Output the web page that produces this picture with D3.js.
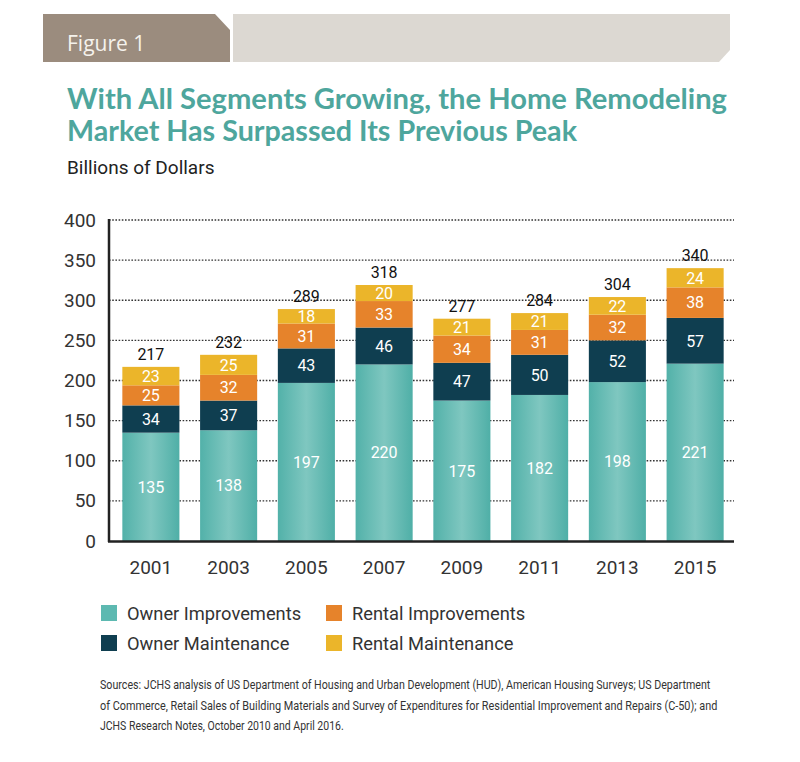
<!DOCTYPE html>
<html>
<head>
<meta charset="utf-8">
<script src="https://cdn.jsdelivr.net/npm/d3@7"></script>
<style>
  body { margin: 0; background: #fff; }
  svg { display: block; }
</style>
</head>
<body>
<div id="chart"></div>
<script>
// chart values
const years = ['2001', '2003', '2005', '2007', '2009', '2011', '2013', '2015'];
const ownerImprovements = [135, 138, 197, 220, 175, 182, 198, 221];
const ownerMaintenance = [34, 37, 43, 46, 47, 50, 52, 57];
const rentalImprovements = [25, 32, 31, 33, 34, 31, 32, 38];
const rentalMaintenance = [23, 25, 18, 20, 21, 21, 22, 24];
const totals = [217, 232, 289, 318, 277, 284, 304, 340];
const yTicks = [0, 50, 100, 150, 200, 250, 300, 350, 400];
const seriesNames = ['Owner Improvements', 'Owner Maintenance', 'Rental Improvements', 'Rental Maintenance'];
const seriesColors = ['url(#tealGrad)', '#0f3e50', '#e6832b', '#ebb52a'];
const legendColors = ['#5db9b1', '#0f3e50', '#e6832b', '#ebb52a'];

const sources = [
  'Sources: JCHS analysis of US Department of Housing and Urban Development (HUD), American Housing Surveys; US Department',
  'of Commerce, Retail Sales of Building Materials and Survey of Expenditures for Residential Improvement and Repairs (C-50); and',
  'JCHS Research Notes, October 2010 and April 2016.'
];

// build rows for stacking
const keys = ['oi', 'om', 'ri', 'rm'];
const rows = years.map((y, i) => ({
  year: y, oi: ownerImprovements[i], om: ownerMaintenance[i],
  ri: rentalImprovements[i], rm: rentalMaintenance[i], total: totals[i]
}));
const stacked = d3.stack().keys(keys)(rows);

const svg = d3.select('#chart')
  .append('svg')
    .attr('width', 800)
    .attr('height', 762);

const defs = svg.append('defs');
const grad = defs.append('linearGradient')
    .attr('id', 'tealGrad')
    .attr('x1', '0%').attr('x2', '100%').attr('y1', '0%').attr('y2', '0%');
grad.append('stop').attr('offset', '0%').attr('stop-color', '#52b1a9');
grad.append('stop').attr('offset', '50%').attr('stop-color', '#7fc7c0');
grad.append('stop').attr('offset', '100%').attr('stop-color', '#4fafa7');

// header bands
svg.append('path')
    .attr('d', 'M43,14 L215,14 L230,30 L230,62 L43,62 Z')
    .attr('fill', '#9b8c7e');
svg.append('path')
    .attr('d', 'M233,14 L730,14 L730,50 L719,62 L233,62 Z')
    .attr('fill', '#dcd8d2');
svg.append('text')
    .attr('x', 67).attr('y', 51)
    .attr('font-family', 'Open Sans, sans-serif')
    .attr('font-size', 21)
    .attr('fill', '#f5f2ec')
    .text('Figure 1');

// title
const titleLines = ['With All Segments Growing, the Home Remodeling', 'Market Has Surpassed Its Previous Peak'];
const titleWidths = [660, 510];
svg.selectAll('.title')
    .data(titleLines)
    .enter()
    .append('text')
      .attr('class', 'title')
      .attr('x', 67)
      .attr('y', (d, i) => 109 + i * 32)
      .attr('font-family', 'Lato, sans-serif')
      .attr('font-weight', 700)
      .attr('font-size', 29)
      .attr('fill', '#4ea69d')
      .attr('textLength', (d, i) => titleWidths[i])
      .attr('lengthAdjust', 'spacingAndGlyphs')
      .text(d => d);

svg.append('text')
    .attr('x', 67).attr('y', 174)
    .attr('font-family', 'Roboto, sans-serif')
    .attr('font-size', 19)
    .attr('fill', '#222')
    .text('Billions of Dollars');

// scales
const x = d3.scaleBand()
    .domain(years)
    .range([112, 734])
    .paddingInner(0.266)
    .paddingOuter(0.133);
const y = d3.scaleLinear()
    .domain([0, 400])
    .range([541, 220]);

// dotted gridlines
svg.append('g')
  .selectAll('line')
  .data(yTicks.filter(t => t > 0))
  .enter()
  .append('line')
    .attr('x1', 109).attr('x2', 734)
    .attr('y1', d => y(d)).attr('y2', d => y(d))
    .attr('stroke', '#333')
    .attr('stroke-width', 1.3)
    .attr('stroke-dasharray', '1.6,1.6');

// bars
const layer = svg.append('g')
  .selectAll('g')
  .data(stacked)
  .enter()
  .append('g')
    .attr('fill', (d, i) => seriesColors[i]);

layer.selectAll('rect')
    .data(d => d)
    .enter()
    .append('rect')
      .attr('x', d => x(d.data.year))
      .attr('y', d => y(d[1]))
      .attr('width', x.bandwidth())
      .attr('height', d => y(d[0]) - y(d[1]));

// segment labels
layer.selectAll('text')
    .data(d => d.map(s => ({ s: s, v: s[1] - s[0] })))
    .enter()
    .append('text')
      .attr('x', d => x(d.s.data.year) + x.bandwidth() / 2)
      .attr('y', d => (y(d.s[0]) + y(d.s[1])) / 2)
      .attr('dy', '0.36em')
      .attr('text-anchor', 'middle')
      .attr('font-family', 'Roboto, sans-serif')
      .attr('font-size', 16)
      .attr('fill', '#fff')
      .text(d => d.v);

// totals
svg.append('g')
  .selectAll('text')
  .data(rows)
  .enter()
  .append('text')
    .attr('x', d => x(d.year) + x.bandwidth() / 2)
    .attr('y', (d, i) => y(stacked[3][i][1]) - 7)
    .attr('text-anchor', 'middle')
    .attr('font-family', 'Roboto, sans-serif')
    .attr('font-size', 16)
    .attr('fill', '#111')
    .text(d => d.total);

// y axis
const yAxis = svg.append('g')
    .attr('transform', 'translate(109,0)')
    .call(d3.axisLeft(y).tickValues(yTicks).tickSize(0).tickPadding(13));
yAxis.select('.domain').remove();
yAxis.selectAll('text')
    .attr('font-family', 'Roboto, sans-serif')
    .attr('font-size', 19)
    .attr('fill', '#333');

// x axis
const xAxis = svg.append('g')
    .attr('transform', 'translate(0,541)')
    .call(d3.axisBottom(x).tickSize(0).tickPadding(20));
xAxis.select('.domain').remove();
xAxis.selectAll('text')
    .attr('font-family', 'Roboto, sans-serif')
    .attr('font-size', 19)
    .attr('fill', '#333');

// axis lines
svg.append('line')
    .attr('x1', 109).attr('x2', 109)
    .attr('y1', 219).attr('y2', 542)
    .attr('stroke', '#222').attr('stroke-width', 2.5);
svg.append('line')
    .attr('x1', 108).attr('x2', 734)
    .attr('y1', 541.5).attr('y2', 541.5)
    .attr('stroke', '#222').attr('stroke-width', 2.5);

// legend
const legendPos = [[101, 605], [101, 635], [326, 605], [326, 635]];
const legend = svg.append('g')
  .selectAll('g')
  .data(seriesNames)
  .enter()
  .append('g')
    .attr('transform', (d, i) => 'translate(' + legendPos[i][0] + ',' + legendPos[i][1] + ')');
legend.append('rect')
    .attr('width', 16).attr('height', 16)
    .attr('fill', (d, i) => legendColors[i]);
legend.append('text')
    .attr('x', 26).attr('y', 14.5)
    .attr('font-family', 'Roboto, sans-serif')
    .attr('font-size', 18.3)
    .attr('fill', '#333')
    .text(d => d);

// sources - narrow look: squeeze each line horizontally to its width in the original
const srcWidths = [611, 618, 244];
const srcLines = svg.append('g')
  .selectAll('g')
  .data(sources)
  .enter()
  .append('g');
srcLines.append('text')
    .attr('font-family', 'Roboto, sans-serif')
    .attr('font-size', 12.5)
    .attr('fill', '#333')
    .text(d => d);
srcLines.attr('transform', function (d, i) {
  const w = this.querySelector('text').getComputedTextLength();
  return 'translate(100,' + (689 + i * 20.5) + ') scale(' + (srcWidths[i] / w) + ',1)';
});
</script>
</body>
</html>
